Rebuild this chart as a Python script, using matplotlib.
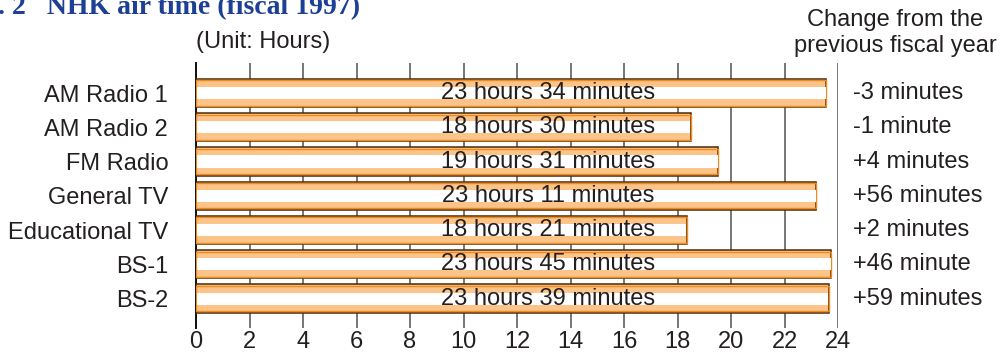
import matplotlib.pyplot as plt

channels = ['AM Radio 1', 'AM Radio 2', 'FM Radio', 'General TV',
            'Educational TV', 'BS-1', 'BS-2']
hours = [23, 18, 19, 23, 18, 23, 23]
minutes = [34, 30, 31, 11, 21, 45, 39]
changes = ['-3 minutes', '-1 minute', '+4 minutes', '+56 minutes',
           '+2 minutes', '+46 minute', '+59 minutes']
xticks = list(range(0, 26, 2))

air_time = [h + m / 60 for h, m in zip(hours, minutes)]
bar_text = [f'{h} hours {m} minutes' for h, m in zip(hours, minutes)]

plt.rcParams['font.family'] = ['Liberation Sans', 'DejaVu Sans']
TXT = '#231f20'

fig = plt.figure(figsize=(10.02, 3.53), dpi=100)
W, H = 1002, 353
# axes box in pixels: left 196, right 838, top 63, bottom 328
ax = fig.add_axes([196 / W, 1 - 328 / H, (838 - 196) / W, (328 - 63) / H])

ypos = list(range(len(channels)))
h = 0.82
ax.barh(ypos, air_time, height=h, color='#fcc488', edgecolor='#4a2a08',
        linewidth=1.1, zorder=3)
ax.barh(ypos, air_time, height=h * 0.9, fill=False, edgecolor='#f08a1c',
        linewidth=1.0, zorder=3)
ax.barh(ypos, [v - 0.04 for v in air_time], left=0.02, height=h * 0.43,
        color='white', linewidth=0, zorder=3)

for y, t in zip(ypos, bar_text):
    ax.text(13.15, y, t, ha='center', va='center', fontsize=17, color=TXT,
            zorder=4)

ax.set_xlim(0, 24)
ax.set_ylim(len(channels) - 1 + 0.86, -0.876)
ax.set_xticks(xticks)
ax.grid(axis='x', color='#6b6b6b', linewidth=1.3, zorder=0)
ax.set_axisbelow(True)
ax.set_yticks(ypos)
ax.set_yticklabels(channels)
ax.tick_params(axis='y', length=0, pad=20, labelsize=17, labelcolor=TXT)
ax.tick_params(axis='x', length=0, pad=2.5, labelsize=17, labelcolor=TXT)
for s in ['top', 'right', 'bottom']:
    ax.spines[s].set_visible(False)
ax.spines['left'].set_color('#111111')
ax.spines['left'].set_linewidth(1.4)

for y, c in zip(ypos, changes):
    ax.text(24.55, y, c, ha='left', va='center', fontsize=17, color=TXT,
            clip_on=False)

fig.text(196 / W, 1 - 42 / H, '(Unit: Hours)', ha='left', va='center',
         fontsize=17, color=TXT)
fig.text(895 / W, 1 - 20 / H, 'Change from the', ha='center', va='center',
         fontsize=17, color=TXT)
fig.text(895 / W, 1 - 46 / H, 'previous fiscal year', ha='center',
         va='center', fontsize=17, color=TXT)
fig.text(-2 / W, 1 - 14 / H, '. 2   NHK air time (fiscal 1997)', ha='left',
         va='baseline', fontsize=20, fontweight='bold', color='#1d3f94',
         family=['Liberation Serif', 'DejaVu Serif'])

fig.savefig('out.png', dpi=100)
